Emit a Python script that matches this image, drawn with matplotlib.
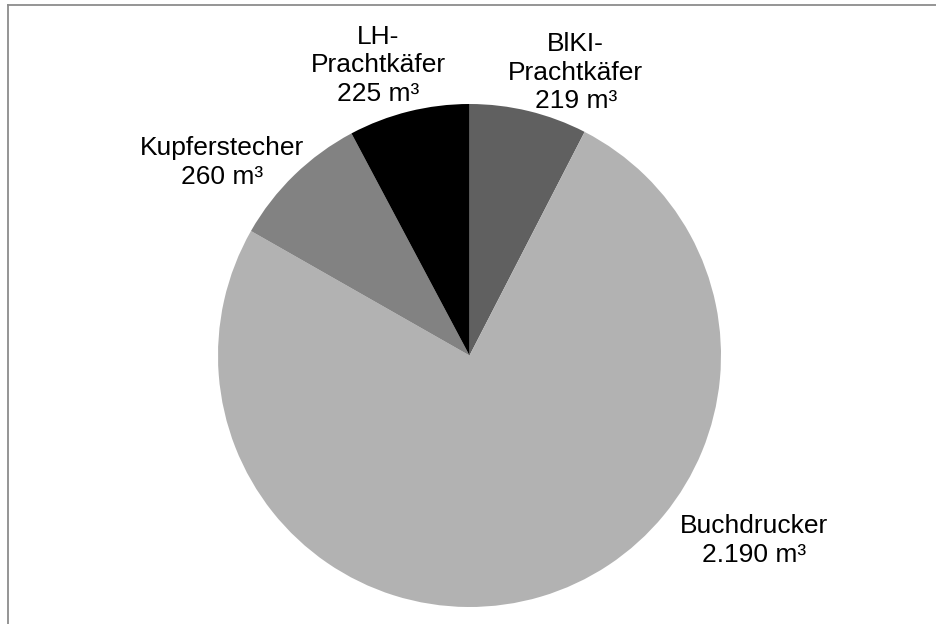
import matplotlib.pyplot as plt
from matplotlib.lines import Line2D

# ======================================================
# Data (clockwise from the top)
# ======================================================
names = ["BlKI-\nPrachtkäfer", "Buchdrucker", "Kupferstecher", "LH-\nPrachtkäfer"]
volumes = [219, 2190, 260, 225]
value_text = ["219 m³", "2.190 m³", "260 m³", "225 m³"]
colors = ["#606060", "#b2b2b2", "#828282", "#000000"]

# label centres in pie units (radius = 1)
label_pos = [(0.422, 1.125), (1.131, -0.735), (-0.984, 0.768), (-0.362, 1.154)]

plt.rcParams["font.family"] = ["Liberation Sans", "DejaVu Sans"]

fig = plt.figure(figsize=(9.36, 6.24), dpi=100)
W, H = 936, 624

# pie centre (469.5, 355.5) px, radius 251.5 px
cx, cy, r = 469.5, 355.5, 251.5
ax = fig.add_axes([(cx - r) / W, (H - cy - r) / H, 2 * r / W, 2 * r / H])

ax.pie(volumes, colors=colors, startangle=90, counterclock=False,
       wedgeprops=dict(linewidth=0))
ax.set_xlim(-1, 1)
ax.set_ylim(-1, 1)
ax.set_aspect("equal")
ax.axis("off")

for name, val, (x, y) in zip(names, value_text, label_pos):
    ax.text(x, y, name + "\n" + val, ha="center", va="center",
            multialignment="center", fontsize=19, linespacing=1.24,
            clip_on=False)

# chart frame (only top and left edges fall inside the picture)
fig.add_artist(Line2D([8 / W, 1], [1 - 5 / H, 1 - 5 / H], color="#8c8c8c", lw=1.3))
fig.add_artist(Line2D([8 / W, 8 / W], [0, 1 - 5 / H], color="#8c8c8c", lw=1.3))

fig.savefig("out.png", dpi=100)
